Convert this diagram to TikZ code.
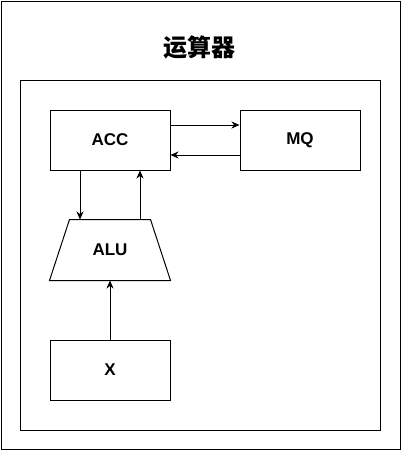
\documentclass[tikz,border=0pt]{standalone}
\usepackage{fontspec}
\setmainfont{Liberation Sans}
\newfontfamily\cjk{Noto Sans CJK SC}
\usetikzlibrary{arrows.meta}
\begin{document}
\begin{tikzpicture}[x=1pt,y=-1pt,line width=1pt,
  lbl/.style={font=\fontsize{17}{20}\selectfont\bfseries},
  box/.style={draw,lbl,minimum width=120pt,minimum height=60pt,inner sep=0pt},
  arr/.style={-{Stealth[length=8pt,width=7pt,inset=2.5pt]}}]
\useasboundingbox (0,0) rectangle (401,451);
\node[draw,minimum width=399pt,minimum height=448pt,inner sep=0pt] (outer) at (200.5,225) {};
\node[font=\cjk\fontsize{24}{28}\selectfont\bfseries] (title) at (200,47) {运算器};
\node[draw,minimum width=360pt,minimum height=350pt,inner sep=0pt] (inner) at (200,255) {};
\node[box] (acc) at (110,140) {ACC};
\node[box] (mq) at (300,140) {MQ};
\node[box] (x) at (110,370) {X};
\node[lbl,minimum width=120pt,minimum height=60pt,inner sep=0pt] (alu) at (110,250) {ALU};
\draw (alu.south west) -- ([xshift=20pt]alu.north west) -- ([xshift=-20pt]alu.north east) -- (alu.south east) -- cycle;
\draw[arr] (acc.east |- 0,125) -- (mq.west |- 0,125);
\draw[arr] (mq.west |- 0,155) -- (acc.east |- 0,155);
\draw[arr] (acc.south -| 80,0) -- (alu.north -| 80,0);
\draw[arr] (alu.north -| 140,0) -- (acc.south -| 140,0);
\draw[arr] (x.north) -- (alu.south);
\end{tikzpicture}
\end{document}
